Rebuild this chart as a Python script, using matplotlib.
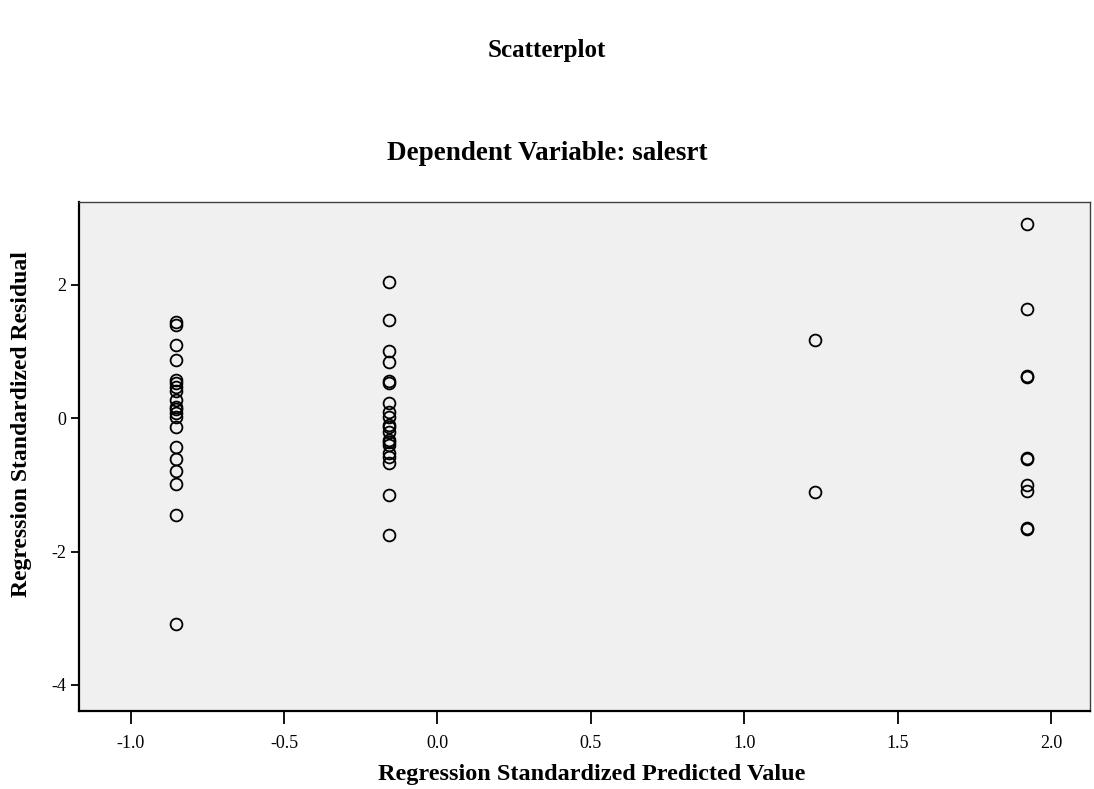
import matplotlib
matplotlib.use("Agg")
import matplotlib.pyplot as plt

# predicted value groups and their standardized residuals
pred_groups = [-0.851, -0.157, 1.23, 1.922]
resid_g1 = [1.44, 1.40, 1.09, 0.87, 0.57, 0.52, 0.47, 0.40, 0.27, 0.17,
            0.14, 0.08, 0.02, -0.13, -0.43, -0.61, -0.79, -0.99, -1.45, -3.08]
resid_g2 = [2.04, 1.47, 1.00, 0.84, 0.55, 0.53, 0.22, 0.09, 0.02, -0.10,
            -0.14, -0.21, -0.33, -0.36, -0.40, -0.52, -0.58, -0.67, -1.15, -1.75]
resid_g3 = [1.17, -1.11]
resid_g4 = [2.91, 1.64, 0.63, 0.61, -0.60, -0.61, -1.00, -1.10, -1.65, -1.66]

xticks = [-1.0, -0.5, 0.0, 0.5, 1.0, 1.5, 2.0]
yticks = [2, 0, -2, -4]

plt.rcParams['axes.unicode_minus'] = False
serif = 'Liberation Serif'

fig = plt.figure(figsize=(10.94, 7.89), dpi=100)
ax = fig.add_axes([0.0722, 0.0989, 0.9241, 0.6451])
ax.set_facecolor('#f0f0f0')

for xv, ys in zip(pred_groups, [resid_g1, resid_g2, resid_g3, resid_g4]):
    ax.plot([xv] * len(ys), ys, linestyle='none', marker='o', markersize=8.5,
            markerfacecolor='none', markeredgecolor='black', markeredgewidth=1.3)

ax.set_xlim(-1.168, 2.127)
ax.set_ylim(-4.39, 3.24)
ax.set_xticks(xticks)
ax.set_xticklabels([f'{t:.1f}' for t in xticks], fontfamily=serif, fontsize=13)
ax.set_yticks(yticks)
ax.set_yticklabels([str(t) for t in yticks], fontfamily=serif, fontsize=13)
ax.tick_params(axis='x', direction='out', length=9, width=1.3, pad=8)
ax.tick_params(axis='y', direction='out', length=6, width=1.3, pad=3)

for side in ['left', 'bottom']:
    ax.spines[side].set_linewidth(1.6)
    ax.spines[side].set_color('black')
for side in ['top', 'right']:
    ax.spines[side].set_linewidth(1.0)
    ax.spines[side].set_color('#404040')

ax.set_xlabel('Regression Standardized Predicted Value', fontfamily=serif,
              fontweight='bold', fontsize=17.5)
ax.set_ylabel('Regression Standardized Residual', fontfamily=serif,
              fontweight='bold', fontsize=17)
ax.xaxis.set_label_coords(0.507, -0.104)
ax.yaxis.set_label_coords(-0.046, 0.564)

fig.text(0.5, 1 - 50 / 789, 'Scatterplot', ha='center', va='center',
         fontfamily=serif, fontweight='bold', fontsize=18)
fig.text(0.5, 1 - 153 / 789, 'Dependent Variable: salesrt', ha='center', va='center',
         fontfamily=serif, fontweight='bold', fontsize=19.5)

fig.savefig('out.png', dpi=100, facecolor='white')
